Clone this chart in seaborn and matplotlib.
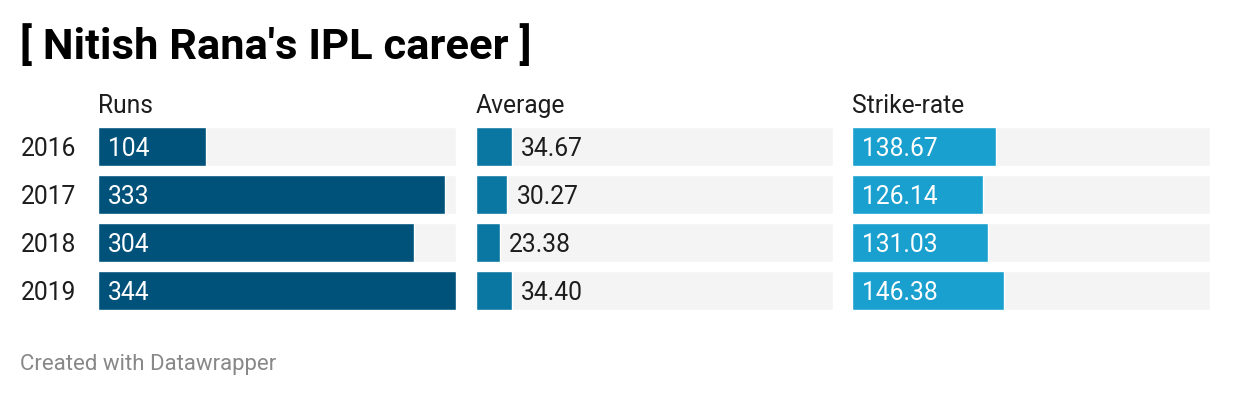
import pandas as pd
import matplotlib.pyplot as plt
import matplotlib.transforms as mtransforms
import seaborn as sns

# data
years = ["2016", "2017", "2018", "2019"]
runs = [104, 333, 304, 344]
average = [34.67, 30.27, 23.38, 34.40]
strike_rate = [138.67, 126.14, 131.03, 146.38]
labels_runs = ["104", "333", "304", "344"]
labels_avg = ["34.67", "30.27", "23.38", "34.40"]
labels_sr = ["138.67", "126.14", "131.03", "146.38"]

columns = [
    ("Runs", runs, labels_runs, "#00527b"),
    ("Average", average, labels_avg, "#0a77a2"),
    ("Strike-rate", strike_rate, labels_sr, "#1aa0cf"),
]

# one shared scale for every column, like the original
scale_max = max(max(runs), max(average), max(strike_rate))

sns.set_theme(style="white")
plt.rcParams['font.family'] = ['Roboto', 'DejaVu Sans']

W, H = 1240, 402
fig = plt.figure(figsize=(W / 100, H / 100), dpi=100)
fig.patch.set_facecolor("white")

FS = 17.7
TXT = "#1d1d1d"
DY = 0.04  # nudge labels down a touch to sit mid-bar

# column positions in pixels (left, right)
col_px = [(98, 456), (476, 833), (852, 1210)]
top_px, bottom_px = 123.5, 315.5

for i, ((name, vals, labs, color), (x0, x1)) in enumerate(zip(columns, col_px)):
    ax = fig.add_axes([x0 / W, 1 - bottom_px / H, (x1 - x0) / W, (bottom_px - top_px) / H])
    df = pd.DataFrame({"year": years, "value": vals, "full": [scale_max] * len(years)})
    sns.barplot(data=df, y="year", x="full", color="#f4f4f4", width=0.82,
                orient="h", ax=ax, saturation=1)
    sns.barplot(data=df, y="year", x="value", color=color, width=0.82,
                orient="h", ax=ax, saturation=1)
    ax.set_xlim(0, scale_max)
    ax.set_xlabel("")
    ax.set_ylabel("")
    ax.set_xticks([])
    ax.set_yticks([])
    for s in ax.spines.values():
        s.set_visible(False)
    if i == 0:
        trans = mtransforms.blended_transform_factory(fig.transFigure, ax.transData)
        for j, yr in enumerate(years):
            ax.text(21 / W, j + DY, yr, transform=trans, fontsize=FS, color=TXT,
                    ha="left", va="center")
    ax.text(0, -0.62, name, fontsize=FS, color=TXT, ha="left", va="bottom")

    px_per_unit = (x1 - x0) / scale_max
    for j, (v, lab) in enumerate(zip(vals, labs)):
        if v * px_per_unit > 80:
            ax.text(10 / px_per_unit, j + DY, lab, color="white", fontsize=FS,
                    ha="left", va="center")
        else:
            ax.text(v + 9 / px_per_unit, j + DY, lab, color=TXT, fontsize=FS,
                    ha="left", va="center")

fig.text(20 / W, 1 - 47 / H, "[ Nitish Rana's IPL career ]", fontsize=31.3,
         fontweight="bold", color="black", ha="left", va="center")
fig.text(20 / W, 1 - 365 / H, "Created with Datawrapper", fontsize=16,
         color="#888888", ha="left", va="center")

fig.savefig("out.png", dpi=100, facecolor="white")
